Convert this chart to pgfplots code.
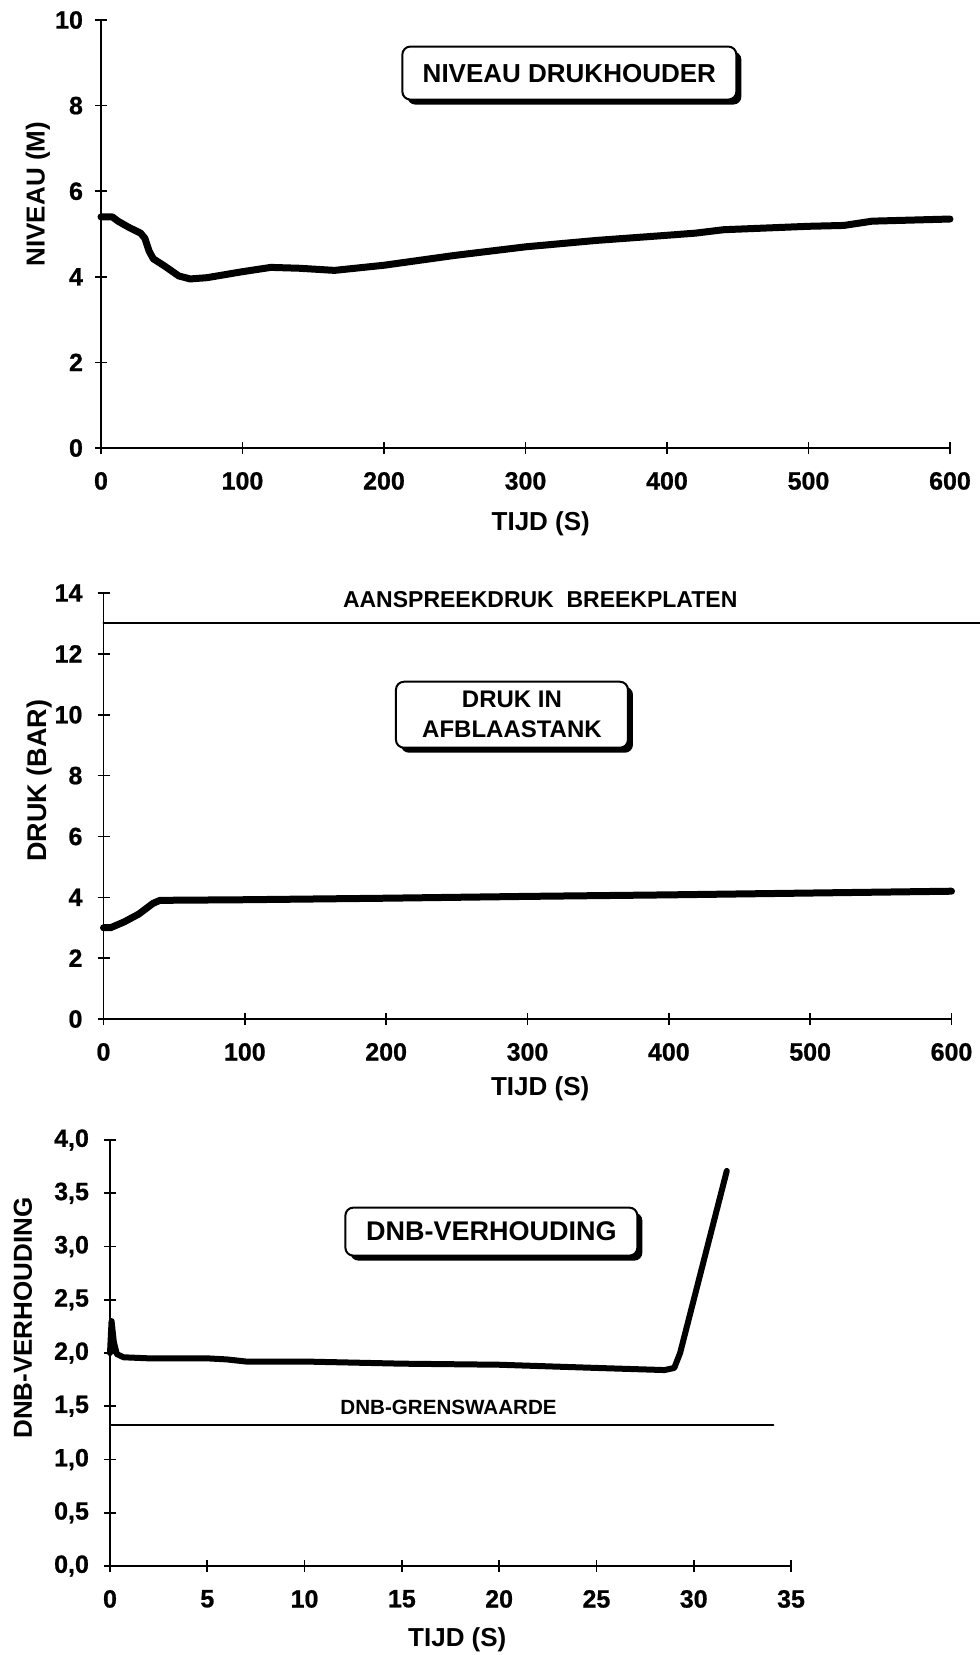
\documentclass[border=0pt]{standalone}
\usepackage{fontspec}
\setmainfont{Liberation Sans}
\newfontfamily\heavy{Liberation Sans}[UprightFont={* Bold}, FakeBold=0.8]
\usepackage{pgfplots}
\pgfplotsset{compat=1.18}
\usetikzlibrary{shadows}

\newcommand{\tl}{\fontsize{12.5}{14}\selectfont\heavy}
\newcommand{\al}{\fontsize{13}{15}\selectfont\bfseries}

\pgfplotsset{
  myax/.style={
    scale only axis, axis lines*=left,
    axis line style={line width=0.9pt},
    tick style={line width=0.8pt, black},
    tick align=center, major tick length=6pt,
    /pgf/number format/assume math mode=true,
    ticklabel style={font=\tl},
    xticklabel style={yshift=-5.5pt},
    clip=false,
    every axis plot/.append style={line cap=round, line join=round},
  },
}
\tikzset{
  titlebox/.style={draw, line width=1pt, rounded corners=4pt, fill=white,
    drop shadow={shadow xshift=2.5pt, shadow yshift=-2.5pt, opacity=1, fill=black},
    font=\fontsize{13}{15}\selectfont\bfseries, align=center, inner sep=0pt},
}

\begin{document}
\begin{tikzpicture}
\useasboundingbox (0,0) rectangle (490pt,-827.5pt);

% ---------- Plot 1 ----------
\begin{axis}[myax, at={(50.5pt,-224pt)}, anchor=south west,
  width=424.5pt, height=214pt,
  xmin=0, xmax=600, ymin=0, ymax=10,
  yticklabel style={xshift=-2.5pt},
  xtick={0,100,200,300,400,500,600}, ytick={0,2,4,6,8,10}]
\addplot[line width=3.5pt] coordinates {
 (0,5.4) (8,5.4) (12,5.3) (20,5.15) (28,5.02) (31,4.9) (34,4.6) (37,4.42)
 (45,4.25) (55,4.02) (63,3.95) (75,3.98) (100,4.12) (120,4.22) (140,4.2)
 (165,4.15) (200,4.27) (250,4.5) (300,4.7) (350,4.85) (400,4.97) (420,5.02)
 (440,5.1) (500,5.18) (525,5.2) (545,5.3) (600,5.35)};
\node[titlebox, minimum width=167pt, minimum height=26.5pt] at (axis cs:331,8.76) {NIVEAU DRUKHOUDER};
\node[rotate=90, font=\al] at ([xshift=-31.5pt]rel axis cs:0,0.593) {NIVEAU (M)};
\node[font=\al] at ([yshift=-38pt]rel axis cs:0.518,0) {TIJD (S)};
\end{axis}

% ---------- Plot 2 ----------
\begin{axis}[myax, at={(51.75pt,-509.5pt)}, anchor=south west,
  width=424pt, height=213pt,
  xmin=0, xmax=600, ymin=0, ymax=14,
  yticklabel style={xshift=-4pt},
  xtick={0,100,200,300,400,500,600}, ytick={0,2,4,6,8,10,12,14}]
\addplot[line width=1pt] coordinates {(0,13) (620,13)};
\addplot[line width=3.5pt] coordinates {
 (0,3.0) (5,3.0) (15,3.2) (25,3.45) (35,3.8) (40,3.9) (100,3.92) (200,3.97)
 (300,4.03) (400,4.08) (500,4.14) (600,4.2)};
\node[font=\fontsize{11.5}{13}\selectfont\bfseries] at (axis cs:309,13.8) {AANSPREEKDRUK\ \ BREEKPLATEN};
\node[titlebox, minimum width=116pt, minimum height=33pt, font=\fontsize{12}{15}\selectfont\bfseries] at (axis cs:289,10.0) {DRUK IN\\AFBLAASTANK};
\node[rotate=90, font=\fontsize{13.5}{15}\selectfont\bfseries] at ([xshift=-31.75pt]rel axis cs:0,0.559) {DRUK (BAR)};
\node[font=\al] at ([yshift=-35pt]rel axis cs:0.515,0) {TIJD (S)};
\end{axis}

% ---------- Plot 3 ----------
\begin{axis}[myax, at={(55pt,-783pt)}, anchor=south west,
  width=340.5pt, height=213pt,
  xmin=0, xmax=35, ymin=0, ymax=4,
  xtick={0,5,10,15,20,25,30,35}, ytick={0,0.5,1,1.5,2,2.5,3,3.5,4},
  yticklabel style={xshift=-4pt, /pgf/number format/.cd, fixed, fixed zerofill, precision=1, use comma}]
\addplot[line width=1pt] coordinates {(0,1.32) (34.1,1.32)};
\addplot[line width=3pt] coordinates {
 (0,2.0) (0.08,2.3) (0.2,2.1) (0.35,1.99) (0.7,1.96) (2,1.95) (5,1.95) (6,1.94)
 (7,1.92) (10,1.92) (15,1.9) (20,1.89) (25,1.86) (28.5,1.84) (29,1.86) (29.3,2.0)
 (31.7,3.71)};
\node[font=\fontsize{10.3}{12}\selectfont\bfseries] at (axis cs:17.4,1.49) {DNB-GRENSWAARDE};
\node[titlebox, minimum width=146pt, minimum height=24pt, font=\fontsize{13.5}{15}\selectfont\bfseries] at (axis cs:19.6,3.14) {DNB-VERHOUDING};
\node[rotate=90, font=\fontsize{13}{15}\selectfont\bfseries] at ([xshift=-43.5pt]rel axis cs:0,0.582) {DNB-VERHOUDING};
\node[font=\al] at ([yshift=-37pt]rel axis cs:0.51,0) {TIJD (S)};
\end{axis}
\end{tikzpicture}
\end{document}
